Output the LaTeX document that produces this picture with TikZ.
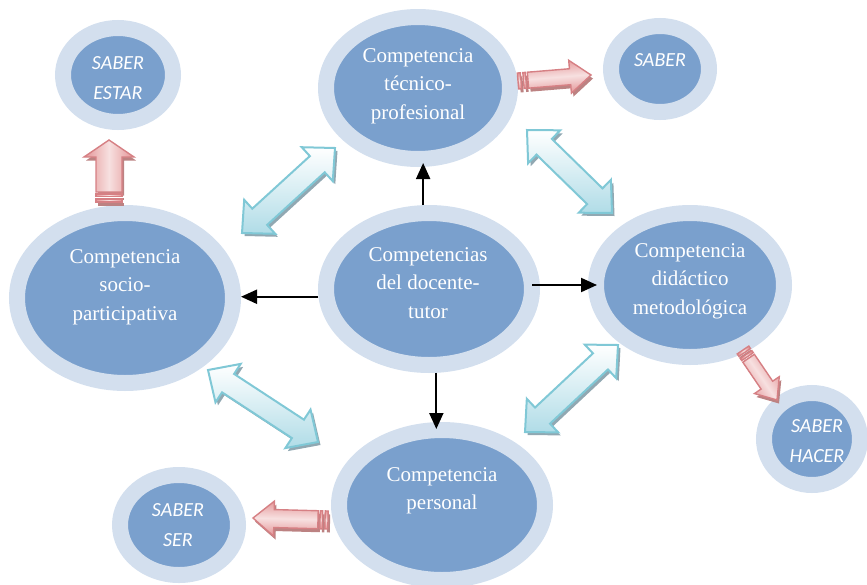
\documentclass[tikz,border=0pt]{standalone}
\usepackage{fontspec}
\setmainfont{Liberation Serif}
\newfontfamily\saberfont{Carlito}
\usetikzlibrary{shapes.geometric,arrows.meta,calc}

\definecolor{ringc}{RGB}{211,223,238}
\definecolor{innerc}{RGB}{122,160,205}
\definecolor{cyanline}{RGB}{128,200,214}
\definecolor{cyanfill}{RGB}{176,220,231}
\definecolor{cyanshadow}{RGB}{145,168,178}
\definecolor{pinkline}{RGB}{214,128,132}
\definecolor{pinkdark}{RGB}{228,148,150}
\definecolor{pinklight}{RGB}{247,224,224}
\definecolor{pinkshadow}{RGB}{188,130,130}

\tikzset{
 bubble/.style={ellipse, fill=innerc, draw=ringc, line width=16pt, inner sep=0pt},
 ctext/.style={text=white, align=center, inner sep=0pt, font=\fontsize{21}{28.5}\selectfont},
 stext/.style={text=white, align=center, inner sep=0pt, font=\saberfont\itshape\fontsize{20}{30}\selectfont},
 link/.style={line width=2pt, -{Triangle[length=16pt,width=14pt]}},
 cyanarrow/.style={draw=cyanline, line width=2pt, top color=white, bottom color=cyanfill, line join=miter},
 cyanshade/.style={fill=cyanshadow},
 pinkarrow/.style={draw=pinkline, line width=1.4pt, top color=pinkdark, bottom color=pinkdark, middle color=pinklight},
 pinkshade/.style={fill=pinkshadow},
}

\newcommand\ArDir[2]{%
 \path (#1); \pgfgetlastxy{\ArAx}{\ArAy}%
 \path (#2); \pgfgetlastxy{\ArBx}{\ArBy}%
 \pgfmathsetmacro\ArAx{\ArAx}\pgfmathsetmacro\ArAy{\ArAy}%
 \pgfmathsetmacro\ArBx{\ArBx}\pgfmathsetmacro\ArBy{\ArBy}%
 \pgfmathsetmacro\ArLen{veclen(\ArBx-\ArAx,\ArBy-\ArAy)}%
 \pgfmathsetmacro\ArC{(\ArBx-\ArAx)/\ArLen}%
 \pgfmathsetmacro\ArS{(\ArBy-\ArAy)/\ArLen}%
 \pgfmathsetmacro\ArAng{atan2(\ArS,\ArC)}%
}
\newcommand\ArPt[3]{%
 \pgfmathsetmacro\ArX{\ArAx+\ArC*(#2)-\ArS*(#3)}%
 \pgfmathsetmacro\ArY{\ArAy+\ArS*(#2)+\ArC*(#3)}%
 \coordinate (#1) at (\ArX pt,\ArY pt);%
}
% double arrow: start, end, shaft half width, head half width, head length
\newcommand\DblArrow[5]{%
 \ArDir{#1}{#2}%
 \ArPt{q1}{0}{0}\ArPt{q2}{#5}{#4}\ArPt{q3}{#5}{#3}\ArPt{q4}{\ArLen-#5}{#3}%
 \ArPt{q5}{\ArLen-#5}{#4}\ArPt{q6}{\ArLen}{0}\ArPt{q7}{\ArLen-#5}{-#4}%
 \ArPt{q8}{\ArLen-#5}{-#3}\ArPt{q9}{#5}{-#3}\ArPt{q10}{#5}{-#4}%
 \fill[cyanshade, transform canvas={shift={(2.5pt,-3pt)}}] (q1)--(q2)--(q3)--(q4)--(q5)--(q6)--(q7)--(q8)--(q9)--(q10)--cycle;
 \draw[cyanarrow] (q1)--(q2)--(q3)--(q4)--(q5)--(q6)--(q7)--(q8)--(q9)--(q10)--cycle;
}
% striped arrow: tail, tip, shaft half width, head half width, head length
\newcommand\StripeArrow[5]{%
 \ArDir{#1}{#2}%
 \ArPt{r1}{10}{#3}\ArPt{r2}{\ArLen-#5}{#3}\ArPt{r3}{\ArLen-#5}{#4}\ArPt{r4}{\ArLen}{0}%
 \ArPt{r5}{\ArLen-#5}{-#4}\ArPt{r6}{\ArLen-#5}{-#3}\ArPt{r7}{10}{-#3}%
 \ArPt{s1}{0}{#3}\ArPt{s2}{3}{#3}\ArPt{s3}{3}{-#3}\ArPt{s4}{0}{-#3}%
 \ArPt{s5}{5.5}{#3}\ArPt{s6}{8}{#3}\ArPt{s7}{8}{-#3}\ArPt{s8}{5.5}{-#3}%
 \begin{scope}[transform canvas={shift={(2pt,-3.5pt)}}]
  \fill[pinkshade] (r1)--(r2)--(r3)--(r4)--(r5)--(r6)--(r7)--cycle;
  \fill[pinkshade] (s1)--(s2)--(s3)--(s4)--cycle;
  \fill[pinkshade] (s5)--(s6)--(s7)--(s8)--cycle;
 \end{scope}
 \draw[pinkarrow, shading angle=\ArAng] (r1)--(r2)--(r3)--(r4)--(r5)--(r6)--(r7)--cycle;
 \draw[pinkarrow, shading angle=\ArAng] (s1)--(s2)--(s3)--(s4)--cycle;
 \draw[pinkarrow, shading angle=\ArAng] (s5)--(s6)--(s7)--(s8)--cycle;
}

\begin{document}
\begin{tikzpicture}[x=1pt,y=-1pt]
\useasboundingbox (0,0) rectangle (867,584);

% bubbles
\node[bubble, minimum width=184pt, minimum height=142pt] (tec) at (418,88) {};
\node[bubble, minimum width=206pt, minimum height=152pt] (cen) at (429,289) {};
\node[bubble, minimum width=216pt, minimum height=170pt] (soc) at (125,298) {};
\node[bubble, minimum width=188pt, minimum height=144pt] (did) at (690,285) {};
\node[bubble, minimum width=206pt, minimum height=150pt] (per) at (442,505) {};
\node[bubble, minimum width=110pt, minimum height=94pt] (sest) at (118,75) {};
\node[bubble, minimum width=98pt, minimum height=86pt] (sab) at (660,69) {};
\node[bubble, minimum width=96pt, minimum height=92pt] (shac) at (812,439) {};
\node[bubble, minimum width=118pt, minimum height=100pt] (sser) at (179,525) {};

% texts
\node[ctext] (tTec) at (418,86) {Competencia\\técnico-\\profesional};
\node[ctext] (tCen) at (428,283) {Competencias\\del docente-\\tutor};
\node[ctext] (tSoc) at (125,287) {Competencia\\socio-\\participativa};
\node[ctext] (tDid) at (690,281) {Competencia\\didáctico\\metodológica};
\node[ctext] (tPer) at (442,491) {Competencia\\personal};
\node[stext] (tSest) at (118,78) {SABER\\ESTAR};
\node[stext] (tSab) at (660,60) {SABER};
\node[stext] (tShac) at (817,441) {SABER\\HACER};
\node[stext] (tSser) at (178,525) {SABER\\SER};

% black connectors
\draw[link] (cen.184) -- (cen.184 -| soc.east);
\draw[link, shorten <=-8pt, shorten >=-9pt] (cen.east |- did.west) -- (did.west);
\draw[link, shorten >=-4pt] (cen.94) -- (cen.94 |- tec.south);
\draw[link, shorten >=-7pt] (cen.-85) -- (cen.-85 |- per.north);

% cyan double arrows
\coordinate (dTLa) at (242,233); \coordinate (dTLb) at (335,148);
\coordinate (dTRa) at (527,130); \coordinate (dTRb) at (612,213);
\coordinate (dBLa) at (208,370); \coordinate (dBLb) at (318,442);
\coordinate (dBRa) at (525,432); \coordinate (dBRb) at (618,345);
\DblArrow{dTLa}{dTLb}{11}{23}{24}
\DblArrow{dTRa}{dTRb}{11}{23}{24}
\DblArrow{dBLa}{dBLb}{11}{23}{24}
\DblArrow{dBRa}{dBRb}{11}{23}{24}

% pink striped arrows
\coordinate (pEa) at (109,202); \coordinate (pEb) at (109,140);
\coordinate (pSa) at (518,81); \coordinate (pSb) at (591,75);
\coordinate (pHa) at (743,350); \coordinate (pHb) at (777,400);
\coordinate (pRa) at (328,520); \coordinate (pRb) at (253,518);
\StripeArrow{pEa}{pEb}{13}{25}{17}
\StripeArrow{pSa}{pSb}{8}{16.5}{21}
\StripeArrow{pHa}{pHb}{7}{15}{18}
\StripeArrow{pRa}{pRb}{9}{17.5}{21}
\end{tikzpicture}
\end{document}
